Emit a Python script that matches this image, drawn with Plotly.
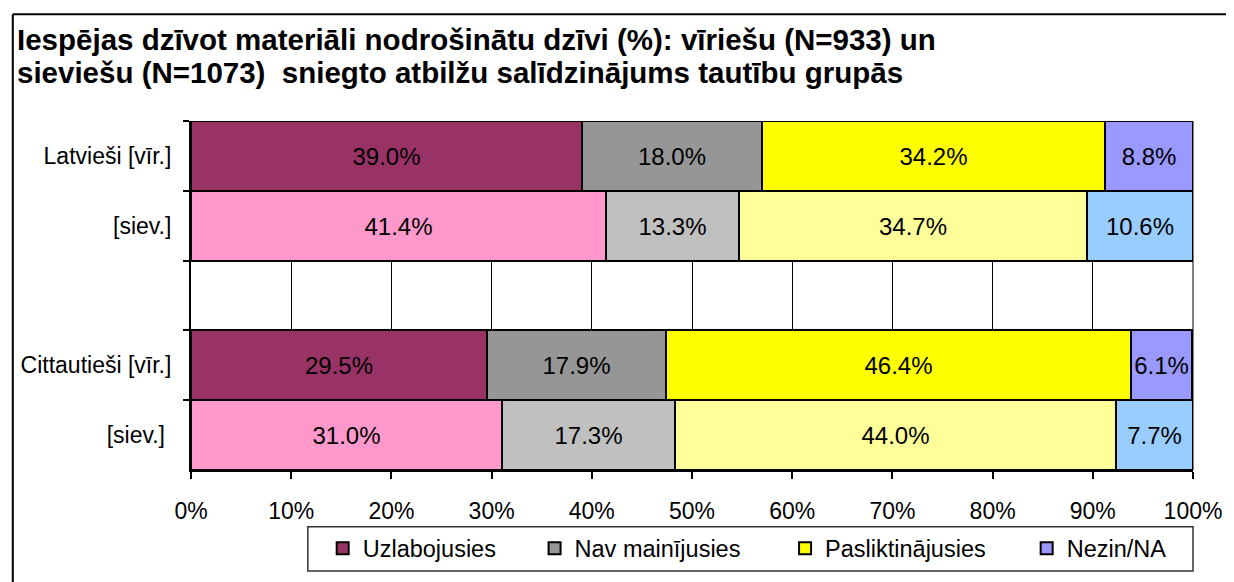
import plotly.graph_objects as go

# ---- data ----
row_labels = ["Latvieši [vīr.]", "[siev.]", "\u00a0", "Cittautieši [vīr.]", "[siev.]\u00a0"]
series_names = ["Uzlabojusies", "Nav mainījusies", "Pasliktinājusies", "Nezin/NA"]
uzlabojusies = [39.0, 41.4, None, 29.5, 31.0]
nav_mainijusies = [18.0, 13.3, None, 17.9, 17.3]
pasliktinajusies = [34.2, 34.7, None, 46.4, 44.0]
nezin_na = [8.8, 10.6, None, 6.1, 7.7]
x_tickvals = [0, 10, 20, 30, 40, 50, 60, 70, 80, 90, 100]
x_ticktext = ["0%", "10%", "20%", "30%", "40%", "50%", "60%", "70%", "80%", "90%", "100%"]
title_lines = [
    "Iespējas dzīvot materiāli nodrošinātu dzīvi (%): vīriešu (N=933) un",
    "sieviešu (N=1073)\u00a0 sniegto atbilžu salīdzinājums tautību grupās",
]

# men (dark) / women (light) colours per series
colors_men = ["#993366", "#969696", "#FFFF00", "#9999FF"]
colors_women = ["#FF99CC", "#C0C0C0", "#FFFF99", "#99CCFF"]
row_is_men = [True, False, True, True, False]

# page has an 8px body margin; work in reference pixel coords and shift
OFF = 8
W, H = 1234 - OFF, 582 - OFF
L, R, T, B = 191 - OFF, 1203 - OFF, 121 - OFF, 477 - OFF

def px_x(x):
    return (x - OFF - L) / (R - L)

def px_y(y):
    return (B - (y - OFF)) / (B - T)

FONT = "Liberation Sans, Arial, sans-serif"

# legend text start x positions (reference px)
legend_text_x = [362, 576, 829, 1073]
legend_ids = ["legend", "legend2", "legend3", "legend4"]

fig = go.Figure()
for name, vals, cm, cw, lid in zip(series_names,
                                   [uzlabojusies, nav_mainijusies, pasliktinajusies, nezin_na],
                                   colors_men, colors_women, legend_ids):
    cols = [cm if m else cw for m in row_is_men]
    fig.add_trace(go.Bar(
        name=name, y=row_labels, x=vals, orientation="h",
        marker=dict(color=cols, line=dict(color="black", width=2)),
        texttemplate="%{x:.1f}%", textposition="inside", insidetextanchor="middle",
        constraintext="none", textangle=0,
        textfont=dict(family=FONT, size=24, color="black"),
        hoverinfo="skip", legend=lid,
    ))

shapes = [
    # outer chart border (left and top)
    dict(type="line", xref="paper", yref="paper", x0=px_x(11), x1=px_x(11),
         y0=px_y(12), y1=px_y(600), line=dict(color="black", width=2)),
    dict(type="line", xref="paper", yref="paper", x0=px_x(11), x1=px_x(1245),
         y0=px_y(12), y1=px_y(12), line=dict(color="black", width=2)),
    # plot area right border
    dict(type="line", xref="paper", yref="paper", x0=1, x1=1, y0=0, y1=1,
         line=dict(color="#808080", width=2), layer="below"),
    # legend box
    dict(type="rect", xref="paper", yref="paper", x0=px_x(309), x1=px_x(1203),
         y0=px_y(535), y1=px_y(580), line=dict(color="#333333", width=1.5),
         fillcolor="white", layer="below"),
]

# title as two left-aligned lines
annotations = []
for line, yc in zip(title_lines, [38, 72]):
    annotations.append(dict(
        text=line, xref="paper", yref="paper", x=px_x(13), y=px_y(yc),
        xanchor="left", yanchor="middle", showarrow=False,
        font=dict(family=FONT, size=29.5, color="black", weight="bold"),
    ))

legend_common = dict(
    orientation="h", xanchor="left", yanchor="middle",
    bgcolor="rgba(0,0,0,0)", borderwidth=0,
    font=dict(family=FONT, size=23.5, color="black"),
)
legend_layouts = {}
for lid, tx in zip(legend_ids, legend_text_x):
    legend_layouts[lid] = dict(legend_common, x=px_x(tx - 38), y=px_y(557))

fig.update_layout(
    width=W, height=H,
    margin=dict(l=L, r=W - R, t=T, b=H - B),
    paper_bgcolor="white", plot_bgcolor="white",
    barmode="stack", bargap=0,
    font=dict(family=FONT, color="black"),
    xaxis=dict(
        range=[0, 100], tickmode="array", tickvals=x_tickvals, ticktext=x_ticktext,
        showgrid=True, gridcolor="black", gridwidth=1,
        showline=True, linecolor="black", linewidth=2,
        ticks="outside", ticklen=7, tickcolor="black", tickwidth=2,
        tickfont=dict(size=23), ticklabelstandoff=12, zeroline=False,
    ),
    yaxis=dict(
        type="category", categoryorder="array", categoryarray=row_labels,
        autorange="reversed", showgrid=False,
        showline=True, linecolor="black", linewidth=2,
        ticks="outside", tickson="boundaries", ticklen=6, tickcolor="black", tickwidth=2,
        tickfont=dict(size=23), ticklabelstandoff=13,
    ),
    shapes=shapes,
    annotations=annotations,
    showlegend=True,
    **legend_layouts,
)

fig.write_html("out.html")
